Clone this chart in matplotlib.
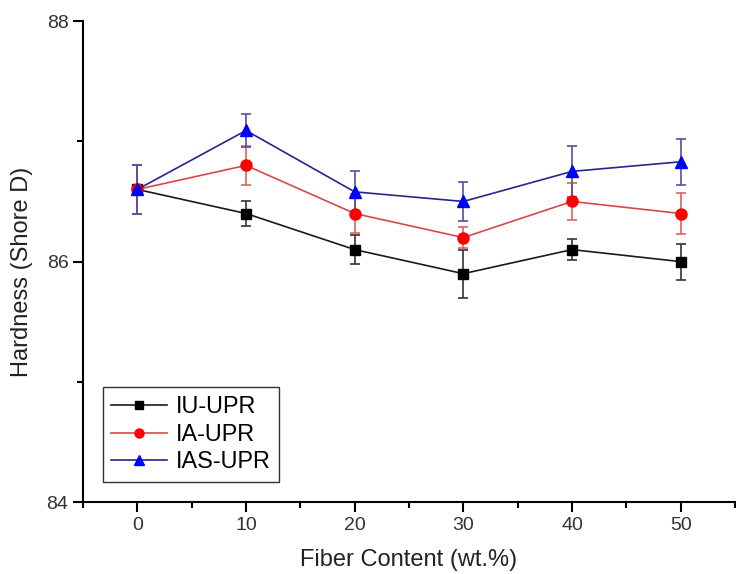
import matplotlib
matplotlib.use("Agg")
import matplotlib.pyplot as plt
from matplotlib.ticker import MultipleLocator
from matplotlib.lines import Line2D

plt.rcParams['font.family'] = ['Liberation Sans', 'DejaVu Sans']

fiber = [0, 10, 20, 30, 40, 50]
iu_upr = [86.6, 86.4, 86.1, 85.9, 86.1, 86.0]
iu_err = [0.2, 0.1, 0.12, 0.2, 0.09, 0.15]
ia_upr = [86.6, 86.8, 86.4, 86.2, 86.5, 86.4]
ia_err = [0.2, 0.16, 0.16, 0.09, 0.15, 0.17]
ias_upr = [86.6, 87.09, 86.58, 86.5, 86.75, 86.83]
ias_err = [0.2, 0.14, 0.17, 0.16, 0.21, 0.19]
labels = ['IU-UPR', 'IA-UPR', 'IAS-UPR']

fig = plt.figure(figsize=(7.36, 5.74), dpi=100)
ax = fig.add_axes([0.1128, 0.125, 0.8858, 0.8384])

series = [
    (iu_upr, iu_err, 's', 7, '#000000', '#1a1a1a', '#333333'),
    (ia_upr, ia_err, 'o', 8, '#ff0000', '#d84848', '#e06060'),
    (ias_upr, ias_err, '^', 8, '#0000ff', '#25258f', '#5050a0'),
]
handles = []
for (vals, errs, mk, ms, mc, lc, ec), lab in zip(series, labels):
    ax.errorbar(fiber, vals, yerr=errs, fmt='-', marker=mk, color=lc,
                markerfacecolor=mc, markeredgecolor=mc, markersize=ms,
                linewidth=1.2, ecolor=ec, elinewidth=1.2, capsize=3.5,
                capthick=1.2)
    handles.append(Line2D([], [], color=lc, linewidth=1.2, marker=mk,
                          markersize=ms - 1.5, markerfacecolor=mc,
                          markeredgecolor=mc, label=lab))

ax.set_xlim(-5, 55)
ax.set_ylim(84, 88)
ax.xaxis.set_major_locator(MultipleLocator(10))
ax.xaxis.set_minor_locator(MultipleLocator(5))
ax.yaxis.set_major_locator(MultipleLocator(2))
ax.yaxis.set_minor_locator(MultipleLocator(1))
ax.spines['top'].set_visible(False)
ax.spines['right'].set_visible(False)
for s in ('left', 'bottom'):
    ax.spines[s].set_linewidth(1.5)
ax.tick_params(axis='both', which='major', direction='out', length=7, width=1.5,
               labelsize=14, colors='black', labelcolor='#333333')
ax.tick_params(axis='both', which='minor', direction='out', length=4, width=1.5)

ax.set_xlabel('Fiber Content (wt.%)', fontsize=17, color='#222222', labelpad=11)
ax.set_ylabel('Hardness (Shore D)', fontsize=17, color='#222222')
ax.yaxis.set_label_coords(-0.077, 0.478)

leg = ax.legend(handles=handles, loc='lower left', bbox_to_anchor=(0.03, 0.043),
                borderaxespad=0, fontsize=16.8, frameon=True, fancybox=False,
                edgecolor='black', handlelength=2.4, borderpad=0.35,
                labelspacing=0.2, handletextpad=0.4)
leg.get_frame().set_linewidth(1.0)

fig.savefig('out.png', dpi=100)
